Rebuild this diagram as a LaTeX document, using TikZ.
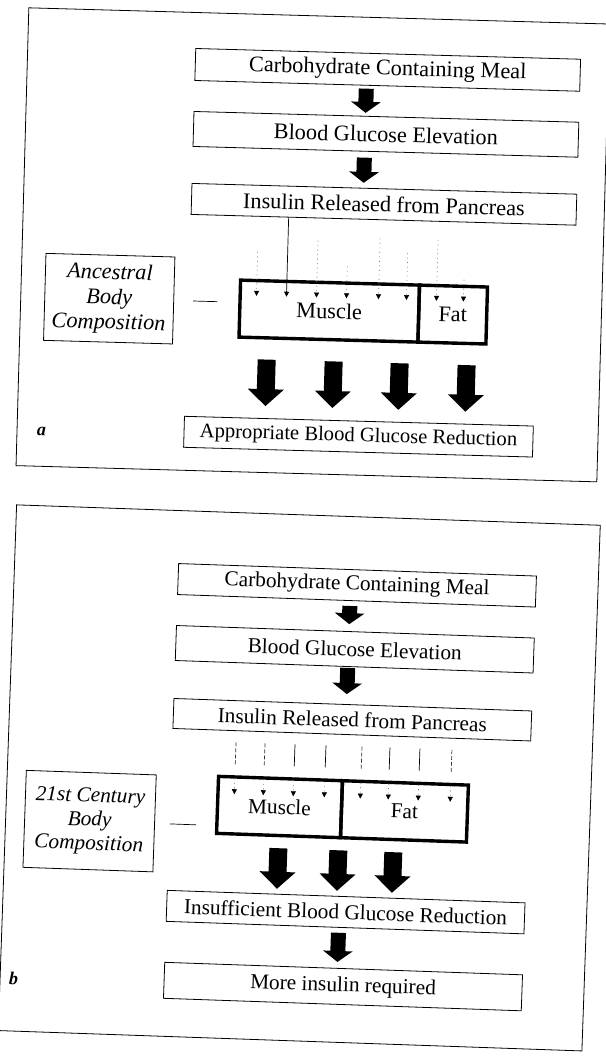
\documentclass[tikz,border=0pt]{standalone}
\usepackage{fontspec}
\setmainfont{Liberation Serif}
\usetikzlibrary{arrows.meta}
\newcommand\fsa{\fontsize{22.3}{25}\selectfont}
\newcommand\fsap{\fontsize{20.6}{24}\selectfont}
\newcommand\fsb{\fontsize{21.3}{24}\selectfont}
\begin{document}
\begin{tikzpicture}[x=1pt,y=-1pt]
\tikzset{
  frame/.style={draw, line width=0.8pt, inner sep=0pt, anchor=north west},
  box/.style={draw, line width=0.8pt, inner sep=0pt, anchor=north west},
  tbox/.style={box, line width=3.4pt},
  compbox/.style={box, align=center},
  smallarr/.style={line width=15pt, -{Triangle[width=29pt,length=11pt]}},
  bigarr/.style={line width=18pt, -{Triangle[width=35pt,length=17pt]}},
  dotline/.style={black!55, line width=0.6pt, dash pattern=on 1pt off 3.5pt},
  solidline/.style={black, line width=0.7pt},
  dashline/.style={black!80, line width=0.7pt, dash pattern=on 4pt off 2pt},
  tip/.style={-{Triangle[width=5pt,length=5pt,color=black]}},
  lab/.style={font=\fontsize{18}{20}\selectfont\bfseries\itshape},
}
\useasboundingbox (0,0) rectangle (605,1057);
\fill[white] (0,0) rectangle (605,1057);

% ---------------- panel a ----------------
\begin{scope}[rotate around={-1.6:(190,240)}, transform shape]
\node[frame, minimum width=581pt, minimum height=458pt] (fa) at (22,12) {};
\node[box, minimum width=385pt, minimum height=32pt, font=\fsa] (a1) at (190,48) {Carbohydrate Containing Meal};
\node[box, minimum width=385pt, minimum height=35pt, font=\fsa] (a2) at (190,111) {Blood Glucose Elevation};
\node[box, minimum width=385pt, minimum height=31pt, font=\fsa] (a3) at (190,183) {Insulin Released from Pancreas};
\node[tbox, minimum width=179pt, minimum height=57pt, font=\fsa] (amus) at (240,277) {Muscle};
\node[tbox, minimum width=68pt, minimum height=57pt, font=\fsa] (afat) at (419,277) {Fat};
\node[compbox, minimum width=129pt, minimum height=87pt, font=\fsa\itshape] (aanc) at (46,257) {Ancestral\\Body\\Composition};
\node[box, minimum width=349pt, minimum height=31pt, font=\fsap] (a4) at (189,416) {Appropriate Blood Glucose Reduction};
\node[lab] (alab) at (47,436) {a};

\coordinate (ax) at (362,0);
\draw[smallarr, shorten <=3pt, shorten >=3pt] (a1.south -| ax) -- (a2.north -| ax);
\draw[smallarr, shorten <=6pt, shorten >=5pt] (a2.south -| ax) -- (a3.north -| ax);

% insulin lines
\coordinate (aline) at (288,0);
\draw[solidline, tip] (a3.south -| aline) -- (288,294);
\foreach \x/\s in {258/250,318/237,348/262,380/233,408/247,438/233,465/272} {
  \draw[dotline, tip] (\x,\s) -- (\x,294);
}

\draw[solidline, shorten <=19pt, shorten >=21pt] (aanc.east) -- (aanc.east -| amus.west);

\foreach \x [count=\i] in {270,337,403,470} {
  \coordinate (abx\i) at (\x,0);
  \draw[bigarr, shorten <=20pt, shorten >=12pt] (amus.south -| abx\i) -- (a4.north -| abx\i);
}
\end{scope}

% ---------------- panel b ----------------
\begin{scope}[rotate around={-2.0:(170,800)}, transform shape]
\node[frame, minimum width=584pt, minimum height=526pt] (fb) at (6,510) {};
\node[box, minimum width=358pt, minimum height=31pt, font=\fsb] (b1) at (170,563) {Carbohydrate Containing Meal};
\node[box, minimum width=358pt, minimum height=35pt, font=\fsb] (b2) at (170,625) {Blood Glucose Elevation};
\node[box, minimum width=358pt, minimum height=30pt, font=\fsb] (b3) at (170,698) {Insulin Released from Pancreas};
\node[tbox, minimum width=124pt, minimum height=57pt, font=\fsb] (bmus) at (216,773) {Muscle};
\node[tbox, minimum width=126pt, minimum height=57pt, font=\fsb] (bfat) at (340,773) {Fat};
\node[compbox, minimum width=130pt, minimum height=97pt, font=\fsb\itshape] (banc) at (25,775) {21st Century\\Body\\Composition};
\node[box, minimum width=358pt, minimum height=31pt, font=\fsb] (b4) at (170,890) {Insufficient Blood Glucose Reduction};
\node[box, minimum width=358pt, minimum height=36pt, font=\fsb] (b5) at (170,962) {More insulin required};
\node[lab] (blab) at (20,984) {b};

\coordinate (bx) at (343,0);
\draw[smallarr, shorten <=5pt, shorten >=7pt] (b1.south -| bx) -- (b2.north -| bx);
\draw[smallarr, shorten <=1pt, shorten >=10pt] (b2.south -| bx) -- (b3.north -| bx);
\draw[smallarr, shorten <=5pt, shorten >=6pt] (b4.south -| bx) -- (b5.north -| bx);

% insulin lines
\foreach \x/\st in {234/dashline,263/dashline,293/solidline,324/solidline,360/dashline,388/solidline,418/solidline,450/dashline} {
  \draw[\st] (\x,740) -- (\x,762);
  \draw[dotline, tip] (\x,776) -- (\x,792);
}

\draw[solidline, shorten <=15pt, shorten >=19pt] (banc.east) -- (banc.east -| bmus.west);

\foreach \x [count=\i] in {280,340,395} {
  \coordinate (bbx\i) at (\x,0);
  \draw[bigarr, shorten <=11pt, shorten >=5pt] (bmus.south -| bbx\i) -- (b4.north -| bbx\i);
}
\end{scope}
\end{tikzpicture}
\end{document}
